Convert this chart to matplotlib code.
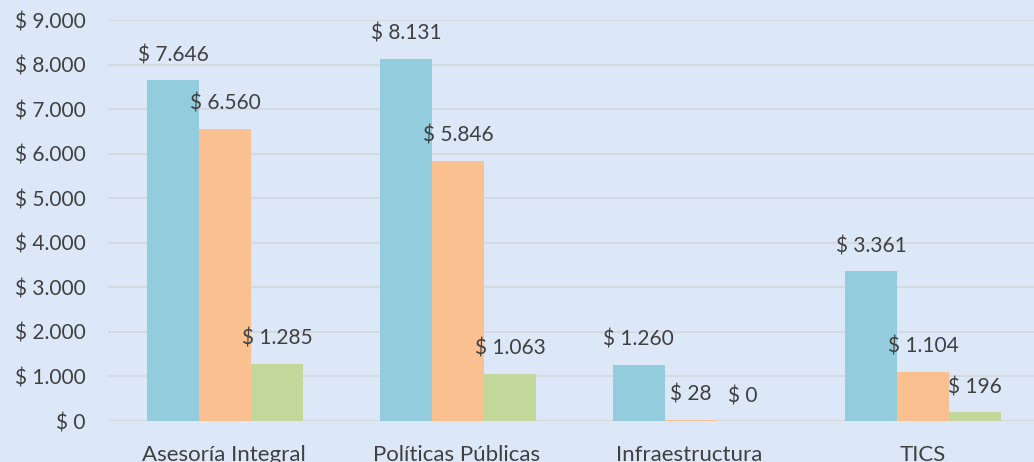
import numpy as np
import matplotlib.pyplot as plt
from matplotlib.ticker import FuncFormatter

# Data
categories = ['Asesoría Integral', 'Políticas Públicas', 'Infraestructura', 'TICS']
serie_a = [7646, 8131, 1260, 3361]
serie_b = [6560, 5846, 28, 1104]
serie_c = [1285, 1063, 0, 196]
yticks = [0, 1000, 2000, 3000, 4000, 5000, 6000, 7000, 8000, 9000]

colors = ['#93CDDD', '#FAC090', '#C4D79B']
bg = '#DCE7F8'
text_color = '#404040'


def money(v, pos=None):
    return '$ ' + f'{int(v):,}'.replace(',', '.')


plt.rcParams['font.family'] = ['Lato', 'DejaVu Sans']

fig = plt.figure(figsize=(10.34, 4.62), dpi=100, facecolor=bg)
ax = fig.add_axes([0.1044, 0.0887, 0.8956, 0.868])
ax.set_facecolor(bg)

x = np.arange(len(categories))
w = 0.2235
for i, (vals, c) in enumerate(zip([serie_a, serie_b, serie_c], colors)):
    pos = x + (i - 1) * w + 0.004
    ax.bar(pos, vals, width=w, color=c, zorder=3)
    for xp, v in zip(pos, vals):
        ax.annotate(money(v), (xp, v), xytext=(0, 18), textcoords='offset points',
                    ha='center', va='center', fontsize=15, color=text_color, zorder=4)

ax.set_xlim(-0.5, 3.48)
ax.set_ylim(0, 9000)
ax.set_yticks(yticks)
ax.yaxis.set_major_formatter(FuncFormatter(money))
ax.set_xticks(x)
ax.set_xticklabels(categories)
ax.grid(axis='y', color='#D6D9DE', linewidth=1.5, zorder=0)
ax.tick_params(axis='y', length=0, pad=16, labelsize=15, labelcolor=text_color)
ax.tick_params(axis='x', length=0, pad=17, labelsize=16, labelcolor=text_color)
for s in ax.spines.values():
    s.set_visible(False)

fig.savefig('out.png', dpi=100, facecolor=bg)
